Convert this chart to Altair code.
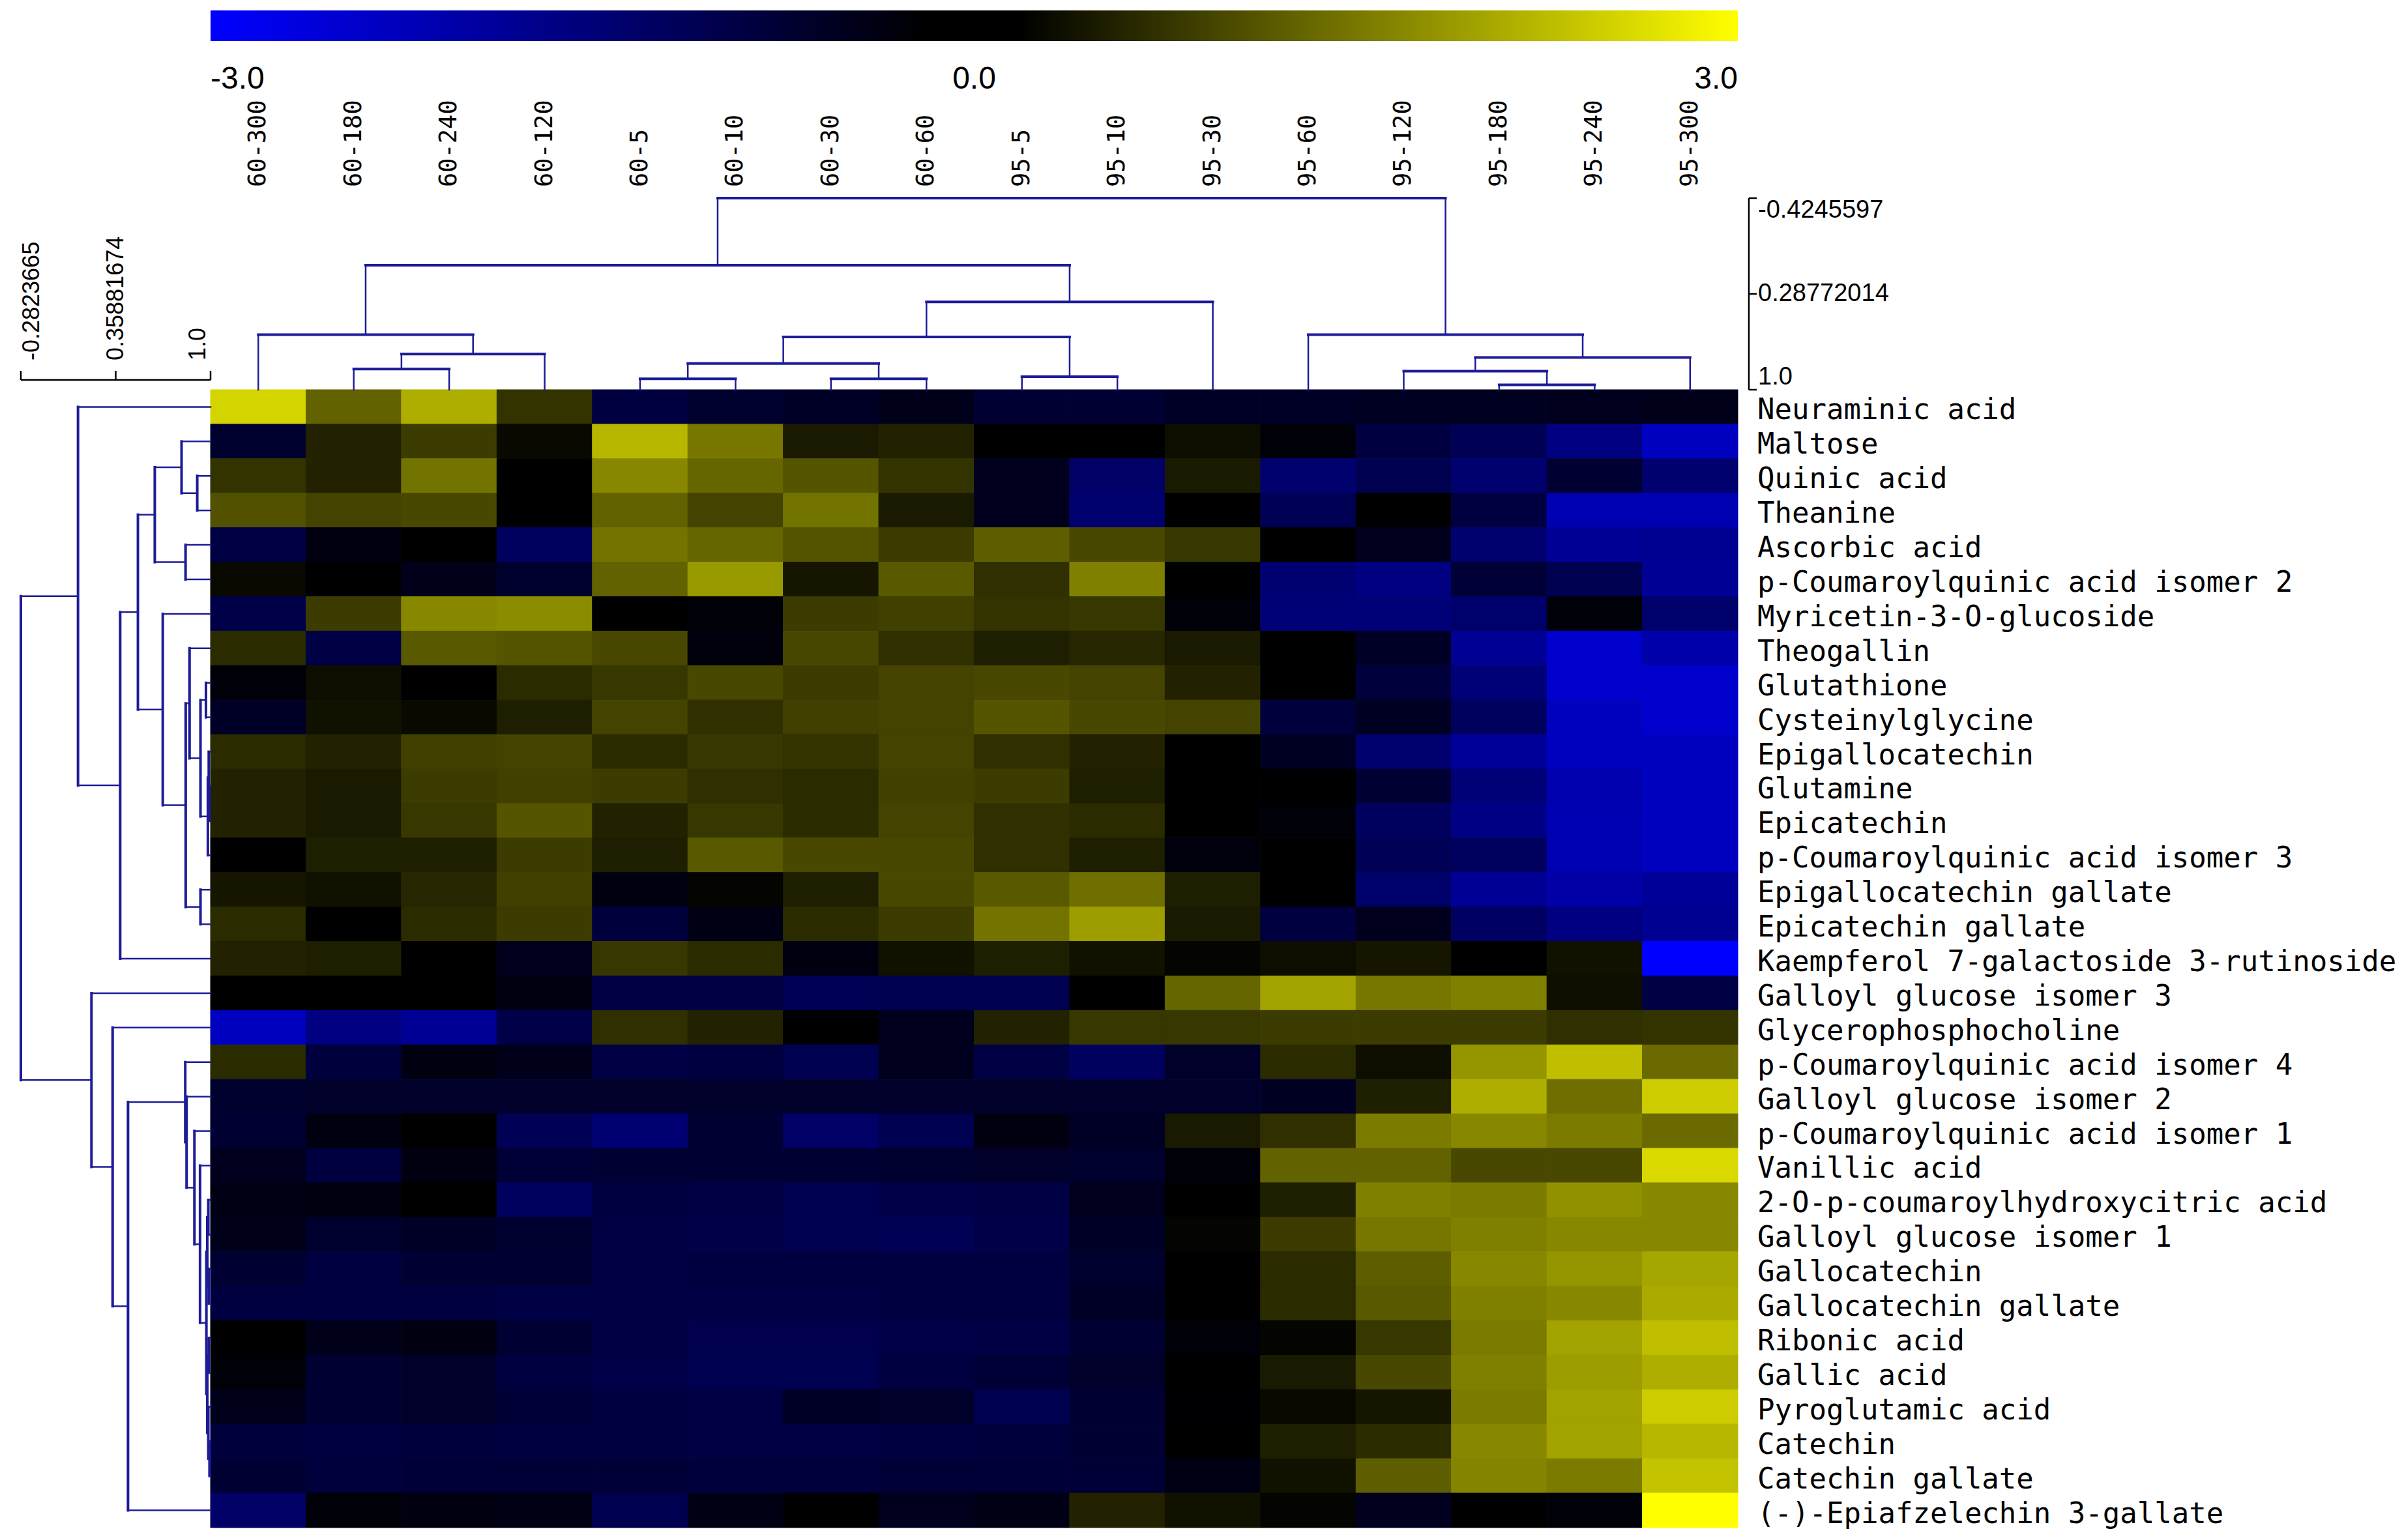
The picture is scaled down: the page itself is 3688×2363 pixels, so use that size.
import altair as alt
import pandas as pd

# ---------------- data ----------------
columns = ["60-300", "60-180", "60-240", "60-120", "60-5", "60-10", "60-30", "60-60",
           "95-5", "95-10", "95-30", "95-60", "95-120", "95-180", "95-240", "95-300"]

compounds = [
    "Neuraminic acid", "Maltose", "Quinic acid", "Theanine", "Ascorbic acid",
    "p-Coumaroylquinic acid isomer 2", "Myricetin-3-O-glucoside", "Theogallin",
    "Glutathione", "Cysteinylglycine", "Epigallocatechin", "Glutamine", "Epicatechin",
    "p-Coumaroylquinic acid isomer 3", "Epigallocatechin gallate", "Epicatechin gallate",
    "Kaempferol 7-galactoside 3-rutinoside", "Galloyl glucose isomer 3",
    "Glycerophosphocholine", "p-Coumaroylquinic acid isomer 4", "Galloyl glucose isomer 2",
    "p-Coumaroylquinic acid isomer 1", "Vanillic acid", "2-O-p-coumaroylhydroxycitric acid",
    "Galloyl glucose isomer 1", "Gallocatechin", "Gallocatechin gallate", "Ribonic acid",
    "Gallic acid", "Pyroglutamic acid", "Catechin", "Catechin gallate",
    "(-)-Epiafzelechin 3-gallate",
]

v_neuraminic = [2.5, 1.15, 2.05, 0.6, -0.75, -0.55, -0.45, -0.3, -0.6, -0.6, -0.45, -0.45, -0.4, -0.38, -0.35, -0.3]
v_maltose = [-0.55, 0.4, 0.7, 0.1, 2.15, 1.4, 0.3, 0.4, 0.0, 0.0, 0.15, -0.1, -0.75, -1.0, -1.5, -2.25]
v_quinic = [0.6, 0.4, 1.35, 0.0, 1.6, 1.2, 1.0, 0.6, -0.35, -1.2, 0.3, -1.3, -0.95, -1.3, -0.6, -1.3]
v_theanine = [0.95, 0.8, 0.85, 0.0, 1.15, 0.8, 1.35, 0.3, -0.35, -1.3, 0.0, -1.0, 0.0, -0.75, -2.1, -2.1]
v_ascorbic = [-0.8, -0.2, 0.0, -1.1, 1.35, 1.2, 1.0, 0.7, 1.1, 0.85, 0.65, 0.0, -0.35, -1.3, -1.75, -1.7]
v_pcqa2 = [0.1, 0.0, -0.3, -0.55, 1.15, 1.8, 0.25, 1.05, 0.55, 1.5, 0.0, -1.35, -1.5, -0.65, -0.95, -1.75]
v_myricetin = [-0.85, 0.7, 1.6, 1.65, 0.0, -0.1, 0.7, 0.75, 0.6, 0.65, -0.1, -1.4, -1.4, -1.25, -0.1, -1.25]
v_theogallin = [0.5, -0.8, 1.05, 1.0, 0.85, -0.15, 0.85, 0.55, 0.35, 0.45, 0.3, 0.0, -0.45, -1.75, -2.4, -2.0]
v_glutathione = [-0.1, 0.15, 0.0, 0.5, 0.65, 0.85, 0.7, 0.8, 0.85, 0.8, 0.4, 0.0, -0.7, -1.4, -2.4, -2.4]
v_cysgly = [-0.45, 0.2, 0.1, 0.35, 0.8, 0.55, 0.75, 0.8, 1.0, 0.85, 0.8, -0.7, -0.4, -1.1, -2.25, -2.4]
v_egc = [0.5, 0.4, 0.75, 0.8, 0.5, 0.65, 0.6, 0.8, 0.55, 0.4, 0.0, -0.4, -1.3, -1.8, -2.25, -2.25]
v_glutamine = [0.4, 0.3, 0.7, 0.75, 0.7, 0.55, 0.5, 0.75, 0.7, 0.35, 0.0, 0.0, -0.6, -1.4, -2.05, -2.25]
v_ec = [0.4, 0.3, 0.65, 1.0, 0.4, 0.65, 0.5, 0.8, 0.55, 0.5, 0.0, -0.1, -1.1, -1.55, -2.1, -2.25]
v_pcqa3 = [0.0, 0.35, 0.35, 0.7, 0.35, 1.05, 0.85, 0.85, 0.55, 0.35, -0.15, 0.0, -1.0, -1.1, -2.1, -2.25]
v_egcg = [0.25, 0.2, 0.45, 0.75, -0.2, 0.05, 0.35, 0.85, 1.05, 1.3, 0.35, 0.0, -1.25, -1.75, -1.95, -1.8]
v_ecg = [0.5, 0.0, 0.5, 0.7, -0.7, -0.25, 0.5, 0.7, 1.35, 1.85, 0.3, -0.75, -0.35, -1.15, -1.5, -1.7]
v_kaempferol = [0.4, 0.35, 0.0, -0.35, 0.65, 0.5, -0.2, 0.2, 0.35, 0.2, 0.05, 0.15, 0.25, 0.0, 0.2, -3.0]
v_gg3 = [0.0, 0.0, 0.0, -0.2, -0.8, -0.8, -1.0, -0.95, -0.95, 0.0, 1.2, 1.9, 1.4, 1.5, 0.15, -0.8]
v_gpc = [-2.25, -1.5, -1.75, -0.85, 0.55, 0.4, 0.0, -0.35, 0.4, 0.65, 0.65, 0.7, 0.7, 0.7, 0.55, 0.6]
v_pcqa4 = [0.5, -0.7, -0.2, -0.3, -0.8, -0.75, -0.95, -0.35, -0.8, -1.1, -0.5, 0.5, 0.15, 1.75, 2.25, 1.25]
v_gg2 = [-0.55, -0.5, -0.5, -0.5, -0.5, -0.5, -0.5, -0.5, -0.5, -0.5, -0.5, -0.4, 0.35, 2.05, 1.3, 2.4]
v_pcqa1 = [-0.6, -0.2, 0.0, -1.0, -1.35, -0.6, -1.2, -0.95, -0.2, -0.45, 0.3, 0.55, 1.45, 1.6, 1.45, 1.25]
v_vanillic = [-0.35, -0.75, -0.2, -0.65, -0.6, -0.6, -0.6, -0.55, -0.5, -0.55, -0.1, 1.15, 1.15, 0.85, 0.85, 2.55]
v_ocoumhca = [-0.25, -0.2, 0.0, -1.1, -0.75, -0.8, -0.95, -0.85, -0.8, -0.35, 0.0, 0.35, 1.5, 1.45, 1.7, 1.6]
v_gg1 = [-0.3, -0.55, -0.45, -0.55, -0.8, -0.85, -0.95, -1.0, -0.85, -0.45, 0.05, 0.7, 1.4, 1.5, 1.6, 1.6]
v_gc = [-0.6, -0.75, -0.6, -0.6, -0.8, -0.75, -0.75, -0.75, -0.75, -0.55, 0.0, 0.5, 1.1, 1.6, 1.75, 1.95]
v_gcg = [-0.75, -0.75, -0.75, -0.8, -0.8, -0.8, -0.8, -0.75, -0.75, -0.45, 0.0, 0.5, 1.05, 1.5, 1.6, 2.0]
v_ribonic = [0.0, -0.3, -0.2, -0.6, -0.8, -0.9, -0.9, -0.85, -0.8, -0.6, -0.1, 0.05, 0.65, 1.45, 1.9, 2.25]
v_gallic = [-0.1, -0.6, -0.5, -0.75, -0.85, -0.95, -0.95, -0.75, -0.65, -0.5, 0.0, 0.3, 0.85, 1.5, 1.85, 2.05]
v_pyroglu = [-0.3, -0.6, -0.5, -0.65, -0.75, -0.8, -0.45, -0.5, -0.95, -0.6, -0.05, 0.1, 0.25, 1.45, 1.9, 2.4]
v_catechin = [-0.7, -0.75, -0.7, -0.75, -0.75, -0.8, -0.8, -0.75, -0.7, -0.6, 0.0, 0.35, 0.5, 1.6, 1.9, 2.15]
v_cg = [-0.6, -0.7, -0.65, -0.65, -0.65, -0.7, -0.7, -0.65, -0.65, -0.65, -0.25, 0.2, 1.1, 1.55, 1.45, 2.3]
v_epiafz = [-1.2, -0.1, -0.2, -0.25, -0.95, -0.25, 0.0, -0.35, -0.25, 0.4, 0.2, 0.05, -0.35, 0.0, -0.1, 3.0]

heat_rows = [v_neuraminic, v_maltose, v_quinic, v_theanine, v_ascorbic, v_pcqa2, v_myricetin,
             v_theogallin, v_glutathione, v_cysgly, v_egc, v_glutamine, v_ec, v_pcqa3, v_egcg,
             v_ecg, v_kaempferol, v_gg3, v_gpc, v_pcqa4, v_gg2, v_pcqa1, v_vanillic, v_ocoumhca,
             v_gg1, v_gc, v_gcg, v_ribonic, v_gallic, v_pyroglu, v_catechin, v_cg, v_epiafz]

# dendrogram merges: (child a, child b, similarity); new node ids continue after the leaves
col_merges = [
    (1, 2, 0.846), (16, 3, 0.735), (0, 17, 0.591), (4, 5, 0.919), (6, 7, 0.919),
    (19, 20, 0.805), (8, 9, 0.9025), (21, 22, 0.607), (23, 10, 0.347), (18, 24, 0.074),
    (13, 14, 0.964), (12, 26, 0.862), (27, 15, 0.760), (11, 28, 0.591), (25, 29, -0.4245597),
]
row_merges = [
    (2, 3, 0.910), (1, 33, 0.804), (4, 5, 0.831), (34, 35, 0.623), (8, 9, 0.969),
    (11, 12, 0.992), (10, 38, 0.988), (39, 13, 0.982), (37, 40, 0.932), (7, 41, 0.858),
    (14, 15, 0.932), (42, 43, 0.832), (6, 44, 0.677), (36, 45, 0.509), (46, 16, 0.389),
    (0, 47, 0.104),
    (30, 31, 0.993), (29, 49, 0.985), (27, 28, 0.988), (51, 50, 0.978), (25, 26, 0.988),
    (23, 24, 0.985), (54, 53, 0.978), (55, 52, 0.972), (22, 56, 0.929), (21, 57, 0.891),
    (20, 58, 0.838), (19, 59, 0.829), (60, 32, 0.442), (18, 61, 0.338), (17, 62, 0.195),
    (48, 63, -0.2823665),
]

col_scale_ticks = [-0.4245597, 0.28772014, 1.0]
col_scale_labels = ["-0.4245597", "0.28772014", "1.0"]
row_scale_ticks = [-0.2823665, 0.35881674, 1.0]
row_scale_labels = ["-0.2823665", "0.35881674", "1.0"]
colorbar_values = [-3.0, 0.0, 3.0]
colorbar_labels = ["-3.0", "0.0", "3.0"]
color_stops = ["#0000ff", "#000000", "#ffff00"]

# ---------------- layout (pixels) ----------------
W, H = 3670, 2345
HM_X0, HM_X1 = 315, 2658
HM_Y0, HM_Y1 = 590, 2336
CB_Y0, CB_Y1 = 8, 55
CB_LABEL_Y = 114
CD_ROOT_Y = 296
RD_ROOT_X = 24
COL_LABEL_Y = 279
ROW_LABEL_X = 2688
COL_BRACKET_X = 2675
ROW_BRACKET_Y = 575
DENDRO_COLOR = "#1c1c98"
LABEL_FONT = "DejaVu Sans Mono"
SCALE_FONT = "Liberation Sans"

n_cols, n_rows = len(columns), len(compounds)

xcol = alt.Scale(domain=[0, n_cols], range=[HM_X0, HM_X1], zero=False, nice=False)
yrow = alt.Scale(domain=[0, n_rows], range=[HM_Y0, HM_Y1], zero=False, nice=False)
ycsim = alt.Scale(domain=[min(col_scale_ticks), max(col_scale_ticks)], range=[CD_ROOT_Y, HM_Y0], zero=False, nice=False)
xrsim = alt.Scale(domain=[min(row_scale_ticks), max(row_scale_ticks)], range=[RD_ROOT_X, HM_X0], zero=False, nice=False)
xcb = alt.Scale(domain=[min(colorbar_values), max(colorbar_values)], range=[HM_X0, HM_X1], zero=False, nice=False)


def color_scale():
    return alt.Scale(domain=colorbar_values, range=color_stops, interpolate="rgb", clamp=True)


# ---------------- tables ----------------
heat_df = pd.DataFrame([
    {"c0": ci, "c1": ci + 1, "r0": ri, "r1": ri + 1, "v": heat_rows[ri][ci],
     "edge": heat_rows[ri][ci], "compound": compounds[ri], "sample": columns[ci]}
    for ri in range(n_rows) for ci in range(n_cols)
])


def dendro_segments(merges, n):
    pos = {i: i + 0.5 for i in range(n)}
    hgt = {i: 1.0 for i in range(n)}
    stems, bars = [], []
    for k, (a, b, h) in enumerate(merges):
        for c in (a, b):
            stems.append({"p1": pos[c], "p2": pos[c], "h1": hgt[c], "h2": h})
        bars.append({"p1": pos[a], "p2": pos[b], "h1": h, "h2": h})
        pos[n + k] = (pos[a] + pos[b]) / 2
        hgt[n + k] = h
    return pd.DataFrame(stems), pd.DataFrame(bars)


cd_stems, cd_bars = dendro_segments(col_merges, n_cols)
rd_stems, rd_bars = dendro_segments(row_merges, n_rows)

row_lab_df = pd.DataFrame({"name": compounds, "r": [i + 0.5 for i in range(n_rows)]})
col_lab_df = pd.DataFrame({"name": columns, "c": [i + 0.5 for i in range(n_cols)]})

# ---------------- layers ----------------
layers = []

heat = alt.Chart(heat_df).mark_rect(strokeWidth=1).encode(
    x=alt.X("c0:Q", scale=xcol, axis=None), x2="c1:Q",
    y=alt.Y("r0:Q", scale=yrow, axis=None), y2="r1:Q",
    color=alt.Color("v:Q", scale=color_scale(), legend=None),
    stroke=alt.Stroke("edge:Q", scale=color_scale(), legend=None),
)
layers.append(heat)

# colour bar: one rect from -3 to 3 filled with the colour ramp
cb_df = pd.DataFrame({"a": [min(colorbar_values)], "b": [max(colorbar_values)]})
ramp = alt.LinearGradient(
    gradient="linear", x1=0, x2=1, y1=0, y2=0,
    stops=[alt.GradientStop(color=color_stops[0], offset=0),
           alt.GradientStop(color=color_stops[1], offset=0.47),
           alt.GradientStop(color=color_stops[1], offset=0.53),
           alt.GradientStop(color=color_stops[2], offset=1)])
layers.append(alt.Chart(cb_df).mark_rect(fill=ramp).encode(
    x=alt.X("a:Q", scale=xcb, axis=None), x2="b:Q",
    y=alt.value(CB_Y0), y2=alt.value(CB_Y1)))
cb_lab = pd.DataFrame({"t": colorbar_values, "lab": colorbar_labels})
for i, al in enumerate(["left", "center", "right"]):
    layers.append(alt.Chart(cb_lab.iloc[[i]]).mark_text(
        align=al, baseline="middle", font=SCALE_FONT, fontSize=48, color="black").encode(
        x=alt.X("t:Q", scale=xcb, axis=None), y=alt.value(CB_LABEL_Y), text="lab:N"))

for df, w in ((cd_stems, 2.5), (cd_bars, 4)):
    layers.append(alt.Chart(df).mark_rule(color=DENDRO_COLOR, strokeWidth=w, strokeCap="square").encode(
        x=alt.X("p1:Q", scale=xcol, axis=None), x2="p2:Q",
        y=alt.Y("h1:Q", scale=ycsim, axis=None), y2="h2:Q"))

for df, w in ((rd_stems, 2.5), (rd_bars, 4)):
    layers.append(alt.Chart(df).mark_rule(color=DENDRO_COLOR, strokeWidth=w, strokeCap="square").encode(
        y=alt.Y("p1:Q", scale=yrow, axis=None), y2="p2:Q",
        x=alt.X("h1:Q", scale=xrsim, axis=None), x2="h2:Q"))

layers.append(alt.Chart(row_lab_df).mark_text(
    align="left", baseline="middle", font=LABEL_FONT, fontSize=44, color="black", dy=6).encode(
    y=alt.Y("r:Q", scale=yrow, axis=None), x=alt.value(ROW_LABEL_X), text="name:N"))

layers.append(alt.Chart(col_lab_df).mark_text(
    angle=270, align="left", baseline="middle", font=LABEL_FONT, fontSize=37, color="black").encode(
    x=alt.X("c:Q", scale=xcol, axis=None), y=alt.value(COL_LABEL_Y), text="name:N"))

# column-dendrogram scale bracket
col_rng = pd.DataFrame({"a": [min(col_scale_ticks)], "b": [max(col_scale_ticks)]})
col_tk = pd.DataFrame({"t": col_scale_ticks, "lab": col_scale_labels})
layers.append(alt.Chart(col_rng).mark_rule(color="black", strokeWidth=2.5).encode(
    x=alt.value(COL_BRACKET_X), y=alt.Y("a:Q", scale=ycsim, axis=None), y2="b:Q"))
layers.append(alt.Chart(col_tk).mark_rule(color="black", strokeWidth=2.5).encode(
    x=alt.value(COL_BRACKET_X), x2=alt.value(COL_BRACKET_X + 12), y=alt.Y("t:Q", scale=ycsim, axis=None)))
for i, base in enumerate(["top", "middle", "bottom"]):
    layers.append(alt.Chart(col_tk.iloc[[i]]).mark_text(
        align="left", baseline=base, font=SCALE_FONT, fontSize=38, color="black").encode(
        x=alt.value(COL_BRACKET_X + 14), y=alt.Y("t:Q", scale=ycsim, axis=None), text="lab:N"))

# row-dendrogram scale bracket
row_rng = pd.DataFrame({"a": [min(row_scale_ticks)], "b": [max(row_scale_ticks)]})
row_tk = pd.DataFrame({"t": row_scale_ticks, "lab": row_scale_labels})
layers.append(alt.Chart(row_rng).mark_rule(color="black", strokeWidth=2.5).encode(
    y=alt.value(ROW_BRACKET_Y), x=alt.X("a:Q", scale=xrsim, axis=None), x2="b:Q"))
layers.append(alt.Chart(row_tk).mark_rule(color="black", strokeWidth=2.5).encode(
    y=alt.value(ROW_BRACKET_Y - 14), y2=alt.value(ROW_BRACKET_Y), x=alt.X("t:Q", scale=xrsim, axis=None)))
for i, base in enumerate(["top", "middle", "bottom"]):
    layers.append(alt.Chart(row_tk.iloc[[i]]).mark_text(
        angle=270, align="left", baseline=base, font=SCALE_FONT, fontSize=36, color="black").encode(
        y=alt.value(ROW_BRACKET_Y - 30), x=alt.X("t:Q", scale=xrsim, axis=None), text="lab:N"))

chart = alt.layer(*layers).resolve_scale(x="independent", y="independent").properties(
    width=W, height=H, autosize=alt.AutoSizeParams(type="none"), padding=0,
    background="white",
).configure_view(stroke=None)

chart.save("out.html", embed_options={"renderer": "svg", "actions": False})
